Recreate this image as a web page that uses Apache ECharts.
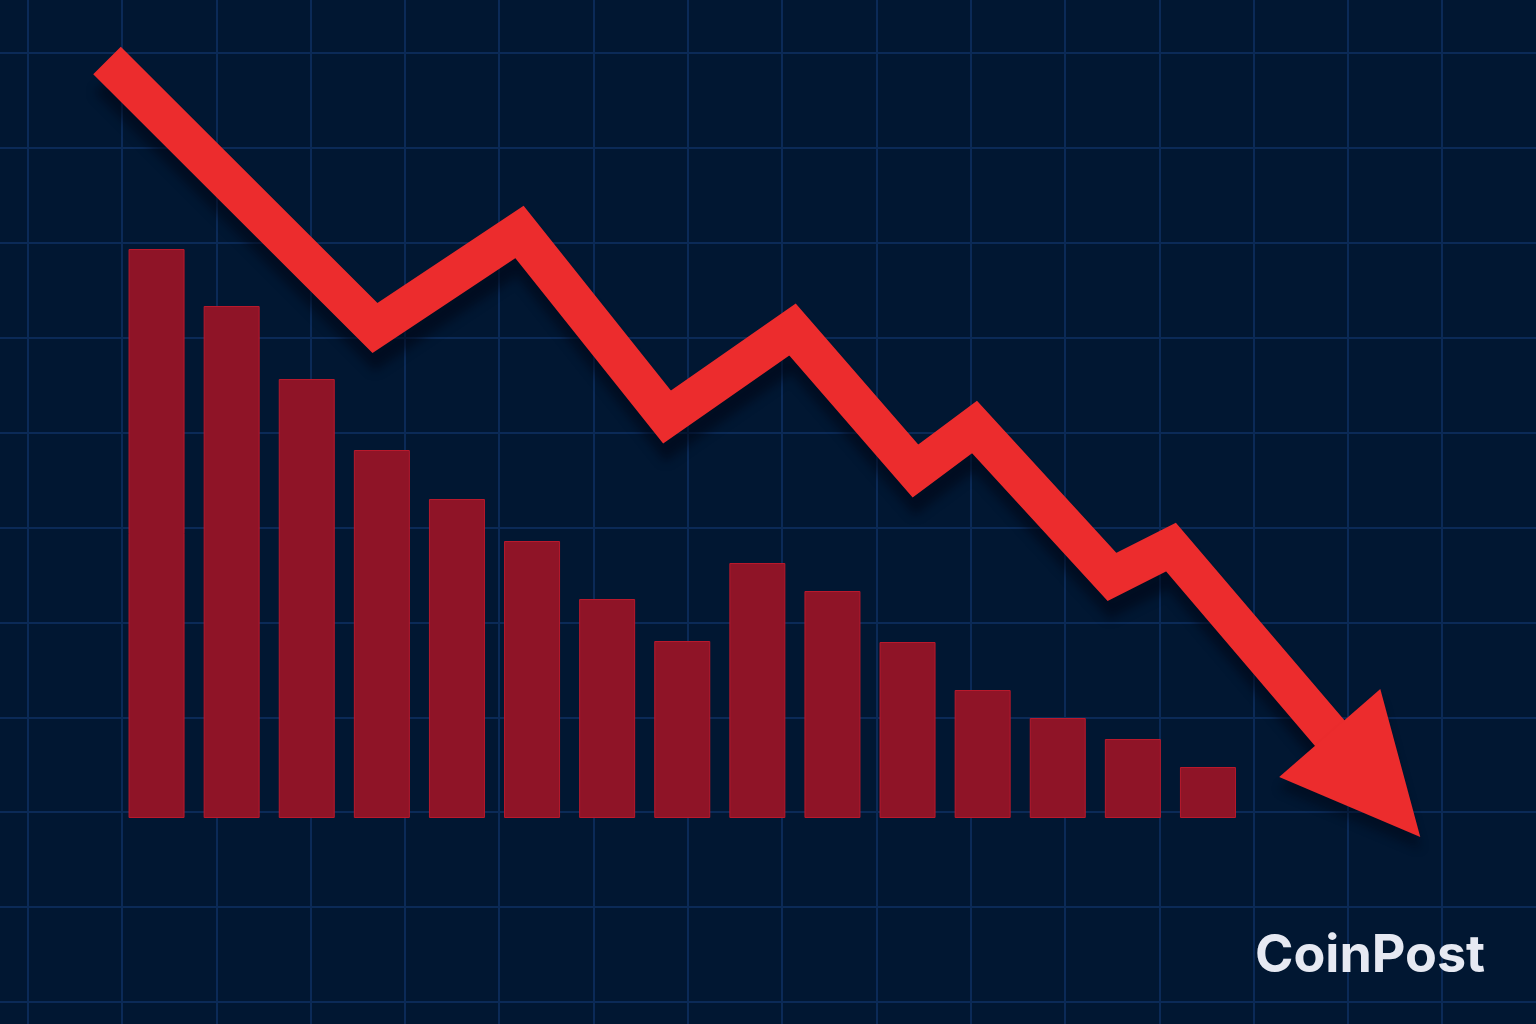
<!DOCTYPE html>
<html>
<head>
<meta charset="utf-8">
<script src="https://cdn.jsdelivr.net/npm/echarts@6/dist/echarts.min.js"></script>
<style>
html,body{margin:0;padding:0;background:#011732;}
#chart{width:1536px;height:1024px;}
</style>
</head>
<body>
<div id="chart"></div>
<script>
// Bar chart (heights above baseline)
const barCategories = ['1','2','3','4','5','6','7','8','9','10','11','12','13','14','15'];
const barValues = [569, 512, 439, 368, 319, 277, 219, 177, 255, 227, 176, 128, 100, 79, 51];

// Trend line (x position, height above bar baseline)
const trendX = [107, 375, 519.5, 667, 792.5, 915.5, 974.5, 1112, 1171, 1345];
const trendY = [757.5, 490, 586, 401, 488.5, 347, 391, 241, 271, 67];

// Arrow head (centre of the head)
const arrowHeadX = [1375];
const arrowHeadY = [33];

const brandText = 'CoinPost';

const trendData = trendX.map((x, i) => [x, trendY[i]]);
const arrowData = arrowHeadX.map((x, i) => [x, arrowHeadY[i]]);

const hiddenAxis = {
  axisLine: {show: false}, axisTick: {show: false}, axisLabel: {show: false}, splitLine: {show: false}
};
const gridLineStyle = {show: true, showMinLine: true, showMaxLine: false, lineStyle: {color: '#0b2a57', width: 2}};

const chart = echarts.init(document.getElementById('chart'));
chart.setOption({
  backgroundColor: '#011732',
  animation: false,
  title: {
    text: brandText,
    left: 1250,
    top: 925,
    textStyle: {color: '#e6e9f2', fontFamily: 'Inter', fontWeight: 'bold', fontSize: 52, letterSpacing: -2.5}
  },
  grid: [
    {left: 119, top: 0, width: 1126.5, height: 818},
    {left: 0, top: 0, width: 1536, height: 1024},
    {left: 27.7, top: 0, width: 1508.3, height: 1024},
    {left: 0, top: 53, width: 1536, height: 971}
  ],
  xAxis: [
    Object.assign({type: 'category', data: barCategories, gridIndex: 0}, hiddenAxis),
    Object.assign({type: 'value', min: 0, max: 1536, gridIndex: 1}, hiddenAxis),
    Object.assign({type: 'value', min: 0, max: 1508.3 / 94.3, interval: 1, gridIndex: 2}, hiddenAxis, {splitLine: gridLineStyle}),
    Object.assign({type: 'value', min: 0, max: 1, gridIndex: 3}, hiddenAxis)
  ],
  yAxis: [
    Object.assign({type: 'value', min: 0, max: 818, gridIndex: 0}, hiddenAxis),
    Object.assign({type: 'value', min: -206, max: 818, gridIndex: 1}, hiddenAxis),
    Object.assign({type: 'value', min: 0, max: 1, gridIndex: 2}, hiddenAxis),
    Object.assign({type: 'value', min: 0, max: 971 / 94.9, interval: 1, inverse: true, gridIndex: 3}, hiddenAxis, {splitLine: gridLineStyle})
  ],
  series: [
    {
      type: 'bar', xAxisIndex: 0, yAxisIndex: 0,
      data: barValues, barWidth: 56,
      itemStyle: {color: '#8f1427', borderColor: '#b8192c', borderWidth: 1},
      z: 2
    },
    {
      type: 'line', xAxisIndex: 1, yAxisIndex: 1,
      data: trendData, symbol: 'none',
      lineStyle: {
        color: '#ec2c2d', width: 39, join: 'miter', miterLimit: 10, cap: 'butt',
        shadowColor: 'rgba(0,6,20,0.55)', shadowBlur: 10, shadowOffsetX: 2, shadowOffsetY: 18
      },
      z: 3
    },
    {
      type: 'scatter', xAxisIndex: 1, yAxisIndex: 1,
      data: arrowData, symbol: 'triangle', symbolSize: [134, 138], symbolRotate: -139,
      itemStyle: {color: '#ec2c2d', opacity: 1, shadowColor: 'rgba(0,6,20,0.45)', shadowBlur: 10, shadowOffsetY: 12},
      z: 4
    }
  ]
});
</script>
</body>
</html>
